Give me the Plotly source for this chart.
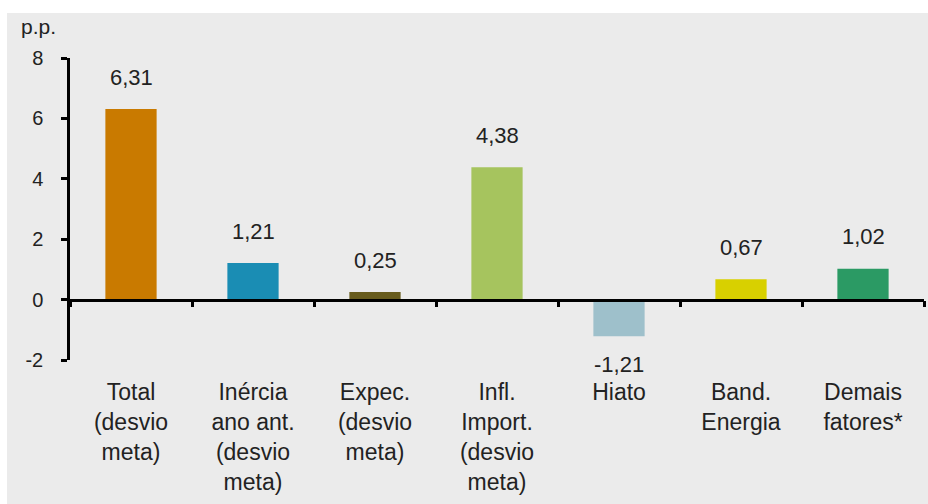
import plotly.graph_objects as go

# Decomposição do desvio da inflação (p.p.)
categories = [
    "Total<br>(desvio<br>meta)",
    "Inércia<br>ano ant.<br>(desvio<br>meta)",
    "Expec.<br>(desvio<br>meta)",
    "Infl.<br>Import.<br>(desvio<br>meta)",
    "Hiato",
    "Band.<br>Energia",
    "Demais<br>fatores*",
]
values = [6.31, 1.21, 0.25, 4.38, -1.21, 0.67, 1.02]
colors = ["#C97A00", "#1A8DB4", "#675B1C", "#A6C45E", "#9EC0CB", "#D8D000", "#2B9A64"]
ytick_vals = [-2, 0, 2, 4, 6, 8]
ytick_text = ["-2", "0", "2", "4", "6", "8"]

W, H = 928, 504
ML, MR, MT, MB = 70, 4, 58, 144
pw, ph = W - ML - MR, H - MT - MB
ymin, ymax = -2, 8

FONT = "Liberation Sans, Arial, sans-serif"
TXT = "#222222"

fig = go.Figure()
fig.add_trace(go.Bar(
    x=categories, y=values,
    marker=dict(color=colors, line=dict(width=0)),
    hoverinfo="skip", showlegend=False,
))
# carrier trace so the zero-line category axis gets its categories
fig.add_trace(go.Scatter(
    x=categories, y=values, xaxis="x2", yaxis="y",
    mode="markers", marker=dict(opacity=0),
    hoverinfo="skip", showlegend=False,
))

# value labels above / below each bar
for c, v in zip(categories, values):
    fig.add_annotation(
        x=c, y=v, xref="x", yref="y",
        text=f"{v:.2f}".replace(".", ","),
        showarrow=False, yanchor="middle",
        yshift=32 if v >= 0 else -28,
        font=dict(family=FONT, size=22, color=TXT),
    )

# unit label
fig.add_annotation(
    x=0, y=1, xref="paper", yref="paper",
    text="p.p.", showarrow=False,
    xanchor="right", yanchor="middle",
    xshift=-12, yshift=32,
    font=dict(family=FONT, size=21, color=TXT),
)

# light grey panel behind the chart
fig.add_shape(
    type="rect", xref="paper", yref="paper", layer="below",
    x0=(7 - ML) / pw, x1=1 + (MR + 5) / pw,
    y0=-(MB + 5) / ph, y1=1 + (MT - 13) / ph,
    fillcolor="#EBEBEB", line=dict(width=0),
)

zero_pos = (0 - ymin) / (ymax - ymin)

fig.update_layout(
    width=W, height=H,
    margin=dict(l=ML, r=MR, t=MT, b=MB),
    paper_bgcolor="white",
    plot_bgcolor="rgba(0,0,0,0)",
    bargap=0.58,
    font=dict(family=FONT, color=TXT),
    xaxis=dict(
        type="category", range=[-0.5, len(categories) - 0.5],
        showline=False, showgrid=False, zeroline=False, ticks="",
        tickfont=dict(family=FONT, size=23, color=TXT),
        ticklabelstandoff=16,
    ),
    # category axis drawn along y = 0 with boundary ticks
    xaxis2=dict(
        type="category", overlaying="x", anchor="free", position=zero_pos,
        range=[-0.5, len(categories) - 0.5],
        tickson="boundaries",
        showline=True, linecolor="black", linewidth=2.5,
        ticks="outside", ticklen=6, tickwidth=2.5, tickcolor="black",
        showticklabels=False, showgrid=False, zeroline=False,
    ),
    yaxis=dict(
        range=[ymin, ymax], tickvals=ytick_vals, ticktext=ytick_text,
        showline=True, linecolor="black", linewidth=2.5,
        ticks="outside", ticklen=6, tickwidth=2.5, tickcolor="black",
        showgrid=False, zeroline=False,
        tickfont=dict(family=FONT, size=20, color=TXT),
        ticklabelstandoff=14,
    ),
)

fig.write_html("out.html")
